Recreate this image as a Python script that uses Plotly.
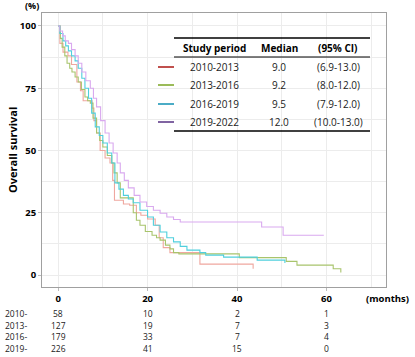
import plotly.graph_objects as go

# ---- data ----
periods = ["2010-2013", "2013-2016", "2016-2019", "2019-2022"]
medians = ["9.0", "9.2", "9.5", "12.0"]
cis = ["(6.9-13.0)", "(8.0-12.0)", "(7.9-12.0)", "(10.0-13.0)"]

red_t = [0, 0.4, 1.1, 2.2, 3.0, 4.2, 5.0, 5.6, 7.6, 8.0, 8.6, 9.4, 10.5, 11.6, 12.2, 12.6, 14.6, 16.0, 17.5, 18.5, 20.0, 21.7, 22.6, 23.5, 25.0, 31.7, 43.6]
red_s = [100, 93, 89.5, 88, 84.5, 77.5, 74, 70, 67, 62, 57, 50, 47, 45, 38, 30, 28.5, 28, 25, 24, 22.5, 20, 15, 11, 9, 4.4, 2.5]

green_t = [0, 0.5, 0.9, 1.5, 2.0, 2.6, 3.1, 3.8, 4.5, 5.2, 6.0, 6.6, 7.2, 7.8, 8.6, 9.3, 10.0, 11.0, 12.0, 12.5, 13.2, 13.9, 16.0, 16.8, 17.5, 18.3, 19.5, 21.0, 22.0, 22.8, 24.0, 25.0, 25.8, 27.0, 40.5, 51.0, 53.4, 61.5, 63.2]
green_s = [100, 95, 91.5, 88, 85, 83, 81.5, 79.5, 77.5, 74.5, 71.5, 70, 69, 63, 57, 54, 51.4, 48, 45, 41, 37, 31, 31, 25, 22, 20, 17.5, 16, 15, 14, 12, 10.5, 9, 8.5, 7, 5.5, 4, 2.5, 1]

cyan_t = [0, 0.4, 1.1, 1.7, 2.3, 3.0, 3.8, 4.5, 5.3, 6.0, 6.8, 7.5, 8.3, 9.2, 10.0, 11.0, 12.0, 12.7, 13.6, 14.6, 15.7, 16.8, 18.3, 20.0, 21.3, 22.8, 24.3, 25.8, 27.3, 28.8, 31.7, 33.0, 37.0, 44.5, 50.7]
cyan_s = [100, 97, 94, 92, 90, 88, 86, 83, 79, 75, 71, 65, 59.5, 56, 53, 49, 45, 37, 34.5, 32, 30.5, 29, 26, 23.3, 20, 17.3, 15, 13.3, 11.5, 10, 9, 8, 7.2, 6, 4.8]

purple_t = [0, 0.4, 1.0, 1.6, 2.3, 3.0, 3.8, 4.5, 5.3, 6.2, 7.2, 7.9, 8.6, 9.5, 10.5, 11.4, 12.3, 13.2, 13.9, 14.8, 15.7, 17.0, 18.3, 19.8, 21.3, 22.8, 24.3, 25.8, 27.3, 45.5, 50.3, 59.4]
purple_s = [100, 98, 96, 94, 93, 90.5, 88, 85, 81.5, 78, 75, 71, 67.5, 62, 57, 53, 49, 45, 41, 38, 35, 32, 29.3, 27.5, 26, 24.8, 23.3, 22.3, 21.3, 19.3, 16, 16]

risk_labels = ["2010-", "2013-", "2016-", "2019-"]
risk_times = [0, 20, 40, 60]
risk_counts = [
    [58, 10, 2, 1],
    [127, 19, 7, 3],
    [179, 33, 7, 4],
    [226, 41, 15, 0],
]

legend_colors = ["#c0504d", "#9bbb59", "#4bacc6", "#8064a2"]
curve_colors = ["#efa79f", "#a8c46c", "#4fcfdd", "#d9a9ef"]

# ---- layout helpers (pixel -> paper) ----
L, R, T, B = 42, 386, 13, 287
W, H = R - L, B - T
def xp(px):
    return (px - L) / W
def yp(py):
    return (B - py) / H

FONT = "Open Sans, Noto Sans, sans-serif"

fig = go.Figure()
series = [(red_t, red_s), (green_t, green_s), (cyan_t, cyan_s), (purple_t, purple_s)]
for (t, s), c, name in zip(series, curve_colors, periods):
    fig.add_trace(go.Scatter(x=t, y=s, mode="lines", line=dict(color=c, width=1.1, shape="hv"),
                             name=name, showlegend=False, hoverinfo="skip"))

shapes = []
annotations = []

def ann(text, x, y, size, xref="paper", xanchor="center", bold=False, color="#222", angle=0):
    annotations.append(dict(text=text, x=x, y=y, xref=xref, yref="paper", showarrow=False,
                            xanchor=xanchor, yanchor="middle", textangle=angle, borderpad=0,
                            font=dict(size=size, family=FONT, color=color,
                                      weight="bold" if bold else "normal")))

# legend table
tx0, tx1 = xp(174), xp(370)
for py, w in [(38, 1.3), (57, 1.0), (131, 1.3)]:
    shapes.append(dict(type="line", xref="paper", yref="paper", x0=tx0, x1=tx1, y0=yp(py), y1=yp(py),
                       line=dict(color="#000000", width=w)))
for txt, cx in [("Study period", 214), ("Median", 279), ("(95% CI)", 338)]:
    ann(txt, xp(cx), yp(48), 10, bold=True, color="#000")
row_y = [67, 85, 104, 122]
for i in range(4):
    y = yp(row_y[i])
    shapes.append(dict(type="line", xref="paper", yref="paper", x0=xp(158), x1=xp(174), y0=y, y1=y,
                       line=dict(color=legend_colors[i], width=2)))
    for txt, cx in [(periods[i], 214), (medians[i], 279), (cis[i], 338)]:
        ann(txt, xp(cx), y, 10)

# number at risk table
risk_y = [313.5, 325, 336.5, 348]
for i in range(4):
    y = yp(risk_y[i])
    ann(risk_labels[i], xp(4), y, 8.5, xanchor="left")
    for tt, n in zip(risk_times, risk_counts[i]):
        ann(str(n), tt, y, 8.5, xref="x")

# axis titles / units
ann("Overall survival", xp(12), yp(150), 11, bold=True, color="#000", angle=-90)
ann("(%)", xp(32), yp(6), 9, bold=True, color="#000")
ann("(months)", xp(387), yp(298), 9.5, bold=True, color="#000")

fig.update_layout(
    width=415, height=357,
    margin=dict(l=L, r=415 - R, t=T, b=357 - B, autoexpand=False),
    paper_bgcolor="white", plot_bgcolor="white",
    shapes=shapes, annotations=annotations,
    font=dict(family=FONT),
    xaxis=dict(range=[-3.6, 73.3], tickvals=[0, 20, 40, 60], showgrid=True, gridcolor="#ececec",
               minor=dict(tickvals=[10, 30, 50, 70], showgrid=True, gridcolor="#ececec"),
               zeroline=False, showline=True, linecolor="#a0a0a0", linewidth=1, mirror=True,
               ticks="outside", ticklen=3, tickcolor="#bbbbbb",
               tickfont=dict(size=9.5, family=FONT, color="#000", weight="bold")),
    yaxis=dict(range=[-4.8, 105.2], tickvals=[0, 25, 50, 75, 100], showgrid=True, gridcolor="#ececec",
               minor=dict(tickvals=[12.5, 37.5, 62.5, 87.5], showgrid=True, gridcolor="#ececec"),
               zeroline=False, showline=True, linecolor="#a0a0a0", linewidth=1, mirror=True,
               ticks="outside", ticklen=3, tickcolor="#bbbbbb",
               tickfont=dict(size=9.5, family=FONT, color="#000", weight="bold")),
)

fig.write_html("out.html", config={"displayModeBar": False},
               post_script="document.body.style.margin='0';")
